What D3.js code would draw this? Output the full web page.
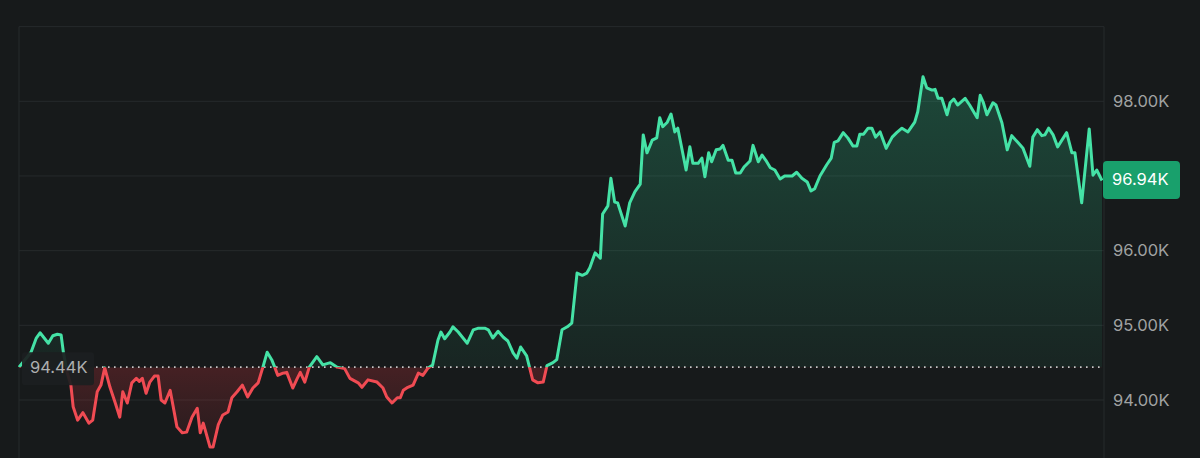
<!DOCTYPE html>
<html><head><meta charset="utf-8">
<script src="https://cdn.jsdelivr.net/npm/d3@7"></script>
<style>html,body{margin:0;padding:0;background:#171a1b;}svg{display:block;}</style>
</head><body>
<svg id="c" width="1200" height="458"></svg>
<script>
// minutes since session start
const minutes = [0,16,23,28,39,45,51,56,59,64,69,72,78,85,93,98,104,109,114,121,128,134,138,144,150,156,160,164,169,174,180,185,189,194,201,210,217,223,230,237,241,245,254,258,265,271,278,283,290,297,304,311,318,324,330,336,340,344,351,356,364,370,374,380,386,396,404,414,423,433,440,451,456,464,476,484,489,496,503,507,511,517,524,531,537,544,550,557,561,566,573,577,584,596,604,610,620,624,630,637,644,650,657,662,667,675,679,683,690,697,702,710,715,722,729,735,742,749,755,759,766,773,776,783,787,792,796,806,812,819,826,830,835,842,848,852,856,862,867,872,876,887,892,896,903,908,912,917,921,927,932,936,943,948,953,959,964,972,976,983,988,993,999,1005,1012,1018,1028,1034,1041,1048,1053,1058,1065,1074,1080,1084,1089,1096,1102,1109,1114,1118,1123,1129,1134,1139,1145,1153,1161,1167,1174,1182,1191,1195,1202,1207,1214,1218,1222,1227,1234,1238,1243,1248,1258,1264,1274,1278,1282,1287,1295,1299,1307,1314,1320,1328,1335,1344,1348,1354,1360,1364,1369,1375,1381,1393,1400,1404,1413,1423,1428,1433,1440];
// price in thousands
const prices = [94.44,94.64,94.83,94.90,94.76,94.86,94.88,94.87,94.64,94.37,94.20,93.91,93.73,93.83,93.69,93.73,94.11,94.20,94.43,94.17,93.96,93.77,94.11,93.96,94.23,94.29,94.25,94.29,94.09,94.24,94.32,94.32,94.00,93.96,94.13,93.64,93.56,93.57,93.77,93.89,93.56,93.69,93.37,93.37,93.67,93.80,93.84,94.03,94.11,94.20,94.04,94.16,94.23,94.43,94.64,94.54,94.44,94.33,94.36,94.37,94.16,94.29,94.37,94.24,94.44,94.58,94.47,94.50,94.44,94.42,94.29,94.23,94.17,94.27,94.24,94.16,94.04,93.96,94.03,94.03,94.13,94.17,94.20,94.36,94.33,94.43,94.47,94.80,94.91,94.82,94.91,94.98,94.91,94.76,94.94,94.96,94.96,94.94,94.83,94.92,94.84,94.79,94.63,94.56,94.71,94.59,94.43,94.27,94.23,94.24,94.46,94.50,94.54,94.94,94.98,95.03,95.70,95.67,95.70,95.77,95.97,95.90,96.49,96.60,96.97,96.65,96.64,96.33,96.64,96.79,96.89,97.55,97.31,97.48,97.51,97.78,97.66,97.72,97.83,97.59,97.64,97.08,97.39,97.17,97.17,97.24,96.99,97.31,97.19,97.35,97.36,97.41,97.21,97.21,97.04,97.04,97.12,97.20,97.41,97.19,97.28,97.21,97.11,97.08,96.96,97.00,97.00,97.05,96.97,96.92,96.80,96.83,97.00,97.15,97.24,97.45,97.47,97.58,97.51,97.40,97.40,97.56,97.56,97.64,97.64,97.52,97.59,97.37,97.52,97.58,97.64,97.59,97.72,97.86,98.33,98.18,98.15,98.16,98.04,98.04,97.82,97.98,98.03,97.95,98.04,97.95,97.78,98.08,97.99,97.82,97.98,97.95,97.71,97.35,97.54,97.45,97.37,97.13,97.52,97.62,97.54,97.55,97.64,97.55,97.39,97.58,97.31,97.31,96.64,97.63,97.01,97.08,96.94];
const basePrice = 94.44;
const lastPrice = 96.94;
const gridValues = [94,95,96,97,98,99];
const tickValues = [94,95,96,98];   // 97.00K sits under the last-price tag
const fmt = v => v.toFixed(2) + "K";

const svg = d3.select("#c");
const W = 1200, H = 458;
const left = 19, right = 1104;
const x = d3.scaleLinear().domain([0,1440]).range([19,1102]);
const y = d3.scaleLinear().domain([94,98]).range([400,101.3]);
const data = minutes.map((m,i)=>({m, p: prices[i]}));
const by = y(basePrice);

const defs = svg.append("defs");
const gg = defs.append("linearGradient").attr("id","gGreen").attr("gradientUnits","userSpaceOnUse")
  .attr("x1",0).attr("x2",0).attr("y1",y(98.4)).attr("y2",by);
gg.append("stop").attr("offset",0).attr("stop-color","#2fd496").attr("stop-opacity",0.25);
gg.append("stop").attr("offset",1).attr("stop-color","#2fd496").attr("stop-opacity",0.06);
const gr = defs.append("linearGradient").attr("id","gRed").attr("gradientUnits","userSpaceOnUse")
  .attr("x1",0).attr("x2",0).attr("y1",by).attr("y2",y(93.3));
gr.append("stop").attr("offset",0).attr("stop-color","#d8343e").attr("stop-opacity",0.24);
gr.append("stop").attr("offset",1).attr("stop-color","#d8343e").attr("stop-opacity",0.07);
defs.append("clipPath").attr("id","cAbove").append("rect").attr("x",0).attr("y",0).attr("width",W).attr("height",by);
defs.append("clipPath").attr("id","cBelow").append("rect").attr("x",0).attr("y",by).attr("width",W).attr("height",H-by);

// grid
svg.append("g").selectAll("line").data(gridValues).join("line")
  .attr("x1",left).attr("x2",right).attr("y1",d=>y(d)).attr("y2",d=>y(d))
  .attr("stroke","#262a2c").attr("stroke-width",1);
svg.append("line").attr("x1",left).attr("x2",left).attr("y1",y(99)).attr("y2",H).attr("stroke","#262a2c");
svg.append("line").attr("x1",right).attr("x2",right).attr("y1",y(99)).attr("y2",H).attr("stroke","#262a2c");

const area = d3.area().x(d=>x(d.m)).y0(by).y1(d=>y(d.p));
const line = d3.line().x(d=>x(d.m)).y(d=>y(d.p));

svg.append("path").datum(data).attr("d",area).attr("fill","url(#gGreen)").attr("clip-path","url(#cAbove)");
svg.append("path").datum(data).attr("d",area).attr("fill","url(#gRed)").attr("clip-path","url(#cBelow)");

// baseline dotted
svg.append("line").attr("x1",96).attr("x2",1101).attr("y1",by).attr("y2",by)
  .attr("stroke","#c8c8c8").attr("stroke-width",1.6).attr("stroke-dasharray","1.6,4.4");

svg.append("path").datum(data).attr("d",line).attr("fill","none").attr("stroke","#45e2a6")
  .attr("stroke-width",3).attr("stroke-linejoin","round").attr("clip-path","url(#cAbove)");
svg.append("path").datum(data).attr("d",line).attr("fill","none").attr("stroke","#f04b53")
  .attr("stroke-width",3).attr("stroke-linejoin","round").attr("clip-path","url(#cBelow)");

// base label
svg.append("rect").attr("x",22).attr("y",by-15).attr("width",72).attr("height",33).attr("rx",3)
  .attr("fill","#1c1f20").attr("opacity",0.93);
svg.append("text").attr("x",30).attr("y",by+1).attr("dominant-baseline","middle")
  .attr("font-family","Inter, 'Open Sans', sans-serif").attr("font-size",16.5).attr("fill","#adafaf")
  .text(fmt(basePrice));

// right axis
const ax = svg.append("g").attr("transform",`translate(${right},0)`)
  .call(d3.axisRight(y).tickValues(tickValues).tickFormat(fmt).tickSize(0).tickPadding(9));
ax.select(".domain").remove();
ax.selectAll("text").attr("font-family","Inter, 'Open Sans', sans-serif").attr("font-size",16.5).attr("fill","#a0a2a2");

// last price tag
const ly = y(lastPrice);
svg.append("rect").attr("x",1103).attr("y",ly-19.5).attr("width",77).attr("height",38).attr("rx",4).attr("fill","#19a06c");
svg.append("text").attr("x",1112).attr("y",ly+0.5).attr("dominant-baseline","middle")
  .attr("font-family","Inter, 'Open Sans', sans-serif").attr("font-size",16.5).attr("fill","#ffffff")
  .text(fmt(lastPrice));
</script>
</body></html>
